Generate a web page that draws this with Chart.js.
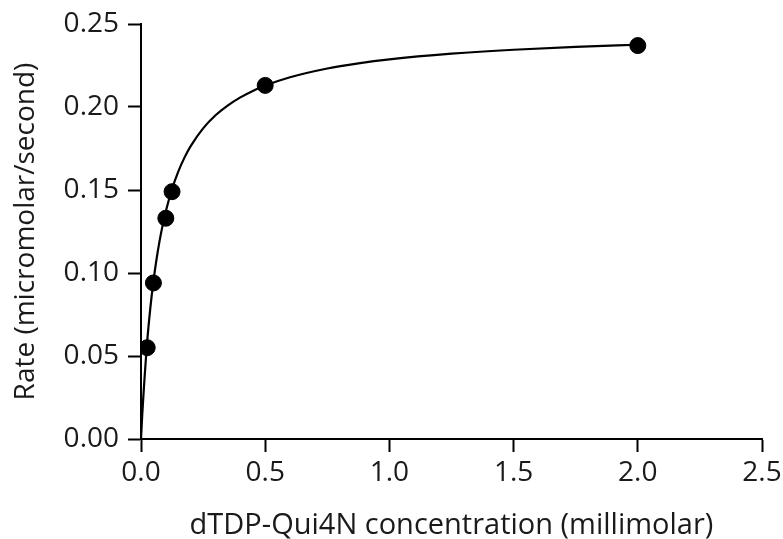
<!DOCTYPE html>
<html>
<head>
<meta charset="utf-8">
<script src="https://cdn.jsdelivr.net/npm/chart.js@4"></script>
<style>
  html, body { margin: 0; padding: 0; background: #fff; }
  #wrap { width: 783px; height: 539px; }
</style>
</head>
<body>
<div id="wrap"><canvas id="canvas" width="783" height="539"></canvas></div>
<script>
// measured points (substrate mM, rate uM/s)
const concX = [0.025, 0.05, 0.1, 0.125, 0.5, 2.0];
const rateY = [0.055, 0.094, 0.133, 0.149, 0.213, 0.237];

// fitted curve
const fitX = [0, 0.005, 0.025, 0.0375, 0.05, 0.0625, 0.075, 0.0875, 0.1, 0.125, 0.15, 0.175, 0.2, 0.25, 0.3, 0.35, 0.4, 0.45, 0.5, 0.6, 0.75, 0.875, 1.0, 1.25, 1.5, 1.75, 2.0];
const fitY = [0, 0.0145, 0.0588, 0.0788, 0.0950, 0.1083, 0.1195, 0.1290, 0.1372, 0.1506, 0.1611, 0.1695, 0.1764, 0.1871, 0.1950, 0.2010, 0.2058, 0.2097, 0.2129, 0.2179, 0.2232, 0.2263, 0.2287, 0.2321, 0.2345, 0.2362, 0.2375];

const xTicks = [0, 0.5, 1.0, 1.5, 2.0, 2.5];
const yTicks = [0, 0.05, 0.10, 0.15, 0.20, 0.25];

const fontFam = "'Open Sans', sans-serif";
const txtColor = '#1a1a1a';

var config = {
    type: 'scatter',
    data: {
        datasets: [{
            label: 'fit',
            type: 'line',
            data: fitX.map((x, i) => ({x: x, y: fitY[i]})),
            borderColor: '#000',
            borderWidth: 2.2,
            pointRadius: 0,
            cubicInterpolationMode: 'monotone',
            fill: false
        }, {
            label: 'data',
            data: concX.map((x, i) => ({x: x, y: rateY[i]})),
            backgroundColor: '#000',
            borderColor: '#000',
            borderWidth: 1,
            pointRadius: 8,
            pointHoverRadius: 8
        }]
    },
    options: {
        responsive: false,
        animation: false,
        layout: { padding: { top: 24, right: 21, left: 0, bottom: 0 } },
        plugins: { legend: { display: false }, tooltip: { enabled: false } },
        scales: {
            x: {
                type: 'linear',
                min: 0, max: 2.5,
                afterBuildTicks: (s) => { s.ticks = xTicks.map(v => ({value: v})); },
                afterFit: (s) => { s.height = 100; s.paddingLeft = 0; s.paddingRight = 0; },
                grid: { drawOnChartArea: false, tickLength: 13, tickColor: '#000', tickWidth: 2 },
                border: { color: '#000', width: 2 },
                ticks: {
                    color: txtColor, padding: 4, maxRotation: 0,
                    font: { family: fontFam, size: 28 },
                    callback: (v) => v.toFixed(1)
                },
                title: {
                    display: true,
                    text: 'dTDP-Qui4N concentration (millimolar)',
                    color: txtColor,
                    font: { family: fontFam, size: 29 },
                    padding: { top: 14, bottom: -4 }
                }
            },
            y: {
                type: 'linear',
                min: 0, max: 0.25,
                afterBuildTicks: (s) => { s.ticks = yTicks.map(v => ({value: v})); },
                afterFit: (s) => { s.width = 141; s.paddingTop = 0; s.paddingBottom = 0; },
                grid: { drawOnChartArea: false, tickLength: 13, tickColor: '#000', tickWidth: 2 },
                border: { color: '#000', width: 2 },
                ticks: {
                    color: txtColor, padding: 9,
                    font: { family: fontFam, size: 28 },
                    callback: (v) => v.toFixed(2)
                },
                title: {
                    display: true,
                    text: 'Rate (micromolar/second)',
                    color: txtColor,
                    font: { family: fontFam, size: 28 },
                    padding: { top: 9 }
                }
            }
        }
    }
};

var ctx = document.getElementById('canvas').getContext('2d');
window.myLine = new Chart(ctx, config);
</script>
</body>
</html>
